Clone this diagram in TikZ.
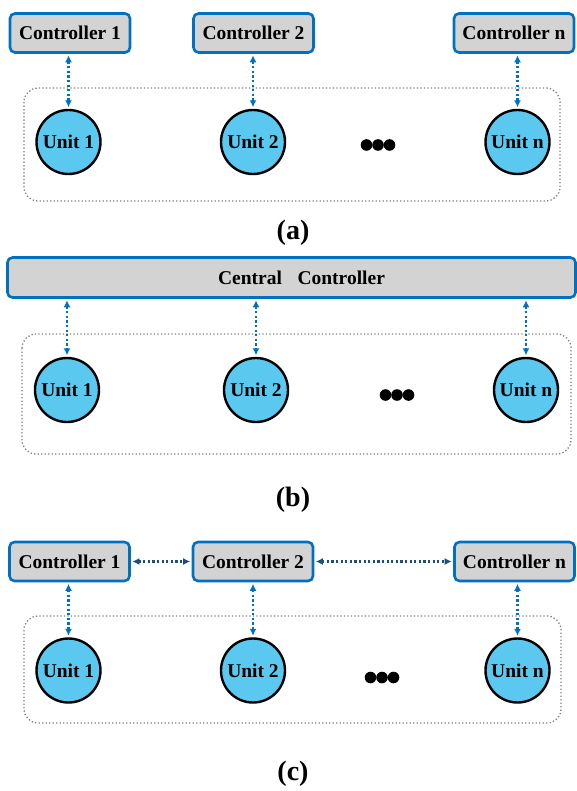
\documentclass[tikz,border=0pt]{standalone}
\usepackage{fontspec}
\setmainfont{Liberation Serif}
\usetikzlibrary{arrows.meta}
\definecolor{ctrlblue}{RGB}{0,112,192}
\definecolor{ctrlgray}{RGB}{211,211,211}
\definecolor{unitblue}{RGB}{91,201,239}
\definecolor{peerblue}{RGB}{31,78,121}
\begin{document}
\begin{tikzpicture}[
		x=1pt, y=-1pt,
		ctrl/.style={rectangle, rounded corners=5pt, draw=ctrlblue, fill=ctrlgray,
		line width=2.6pt, minimum width=120pt, minimum height=39pt, inner sep=0pt,
		font=\fontsize{19.5}{22}\selectfont\bfseries},
		unit/.style={circle, draw=black, fill=unitblue, line width=2.4pt,
		minimum size=64pt, inner sep=0pt, font=\fontsize{19.5}{22}\selectfont\bfseries},
		link/.style={draw=ctrlblue, line width=2.3pt, dash pattern=on 2.2pt off 2.4pt,
		{Latex[length=7pt,width=7pt]}-{Latex[length=7pt,width=7pt]}, shorten <=1.5pt, shorten >=1.5pt},
		peer/.style={link, draw=peerblue},
		group/.style={draw=gray, line width=1.3pt, dash pattern=on 1.3pt off 2.2pt, rounded corners=14pt},
		tag/.style={font=\fontsize{28}{32}\selectfont\bfseries}
		]
		\useasboundingbox (0,0) rectangle (576,791);

		% (a) one controller per unit
		\draw[group] (24,88) rectangle (560,201);
		\node[ctrl] (a-c1) at (70,33) {Controller 1};
		\node[ctrl] (a-c2) at (253.5,33) {Controller 2};
		\node[ctrl] (a-cn) at (514,33) {Controller n};
		\node[unit] (a-u1) at (68.5,142) {Unit 1};
		\node[unit] (a-u2) at (253,142) {Unit 2};
		\node[unit] (a-un) at (517.5,142) {Unit n};
		\foreach \x in {-11.5,0,11.5}
			\fill (378+\x,145) circle (5.8);
		\foreach \i in {1,2,n}
			\draw[link] (a-c\i.south -| a-u\i.north) -- (a-u\i.north);
		\node[tag] (a-tag) at (293,233) {(a)};

		% (b) one central controller
		\draw[group] (22,334) rectangle (571,454);
		\node[ctrl, minimum width=568pt, minimum height=40pt] (b-c) at (291.5,277.5)
			{\hspace{20pt}Central\hspace{0.8em}Controller};
		\node[unit] (b-u1) at (67,390) {Unit 1};
		\node[unit] (b-u2) at (256,390) {Unit 2};
		\node[unit] (b-un) at (526,390) {Unit n};
		\foreach \x in {-11.5,0,11.5}
			\fill (397+\x,395) circle (5.8);
		\foreach \i in {1,2,n}
			\draw[link] (b-c.south -| b-u\i.north) -- (b-u\i.north);
		\node[tag] (b-tag) at (293,500) {(b)};

		% (c) controllers talking to each other
		\draw[group] (24,616) rectangle (561,723);
		\node[ctrl] (c-c1) at (69.5,561.5) {Controller 1};
		\node[ctrl] (c-c2) at (253,561.5) {Controller 2};
		\node[ctrl] (c-cn) at (514.5,561.5) {Controller n};
		\node[unit] (c-u1) at (68.5,670.5) {Unit 1};
		\node[unit] (c-u2) at (253,670.5) {Unit 2};
		\node[unit] (c-un) at (517.5,670.5) {Unit n};
		\foreach \x in {-11.5,0,11.5}
			\fill (382+\x,677.5) circle (5.8);
		\foreach \i in {1,2,n}
			\draw[link] (c-c\i.south -| c-u\i.north) -- (c-u\i.north);
		\draw[peer] (c-c1) -- (c-c2);
		\draw[peer] (c-c2) -- (c-cn);
		\node[tag] (c-tag) at (293,774) {(c)};
	\end{tikzpicture}
\end{document}
